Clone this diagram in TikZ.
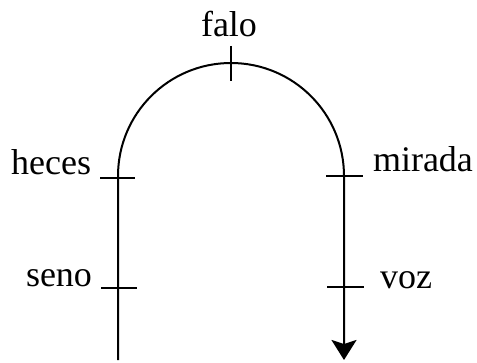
\documentclass[tikz,border=0pt]{standalone}
\usepackage{fontspec}
\setmainfont{Liberation Serif}
\usetikzlibrary{arrows.meta}
\begin{document}
\begin{tikzpicture}[x=1pt,y=1pt,line width=2pt,
  lbl/.style={font=\fontsize{36}{40}\selectfont,inner sep=0pt},
  tickmark/.style={line width=1.8pt}]
\useasboundingbox (0,0) rectangle (477,362);
% ---------- points on the path ----------
\coordinate (start) at (118,2);
\coordinate (arcL) at (118,186);
\coordinate (stop) at (344,2);
\coordinate (falo) at (231,299);
\coordinate (heces) at (118,184);
\coordinate (seno) at (118,74);
\coordinate (mirada) at (344,186);
\coordinate (voz) at (344,75);
% ---------- the path ----------
\draw[-{Stealth[length=20pt,width=25pt,inset=4pt]}] (start) -- (arcL)
  arc[start angle=180,end angle=0,radius=113] -- (stop);
% ---------- tick marks ----------
\draw[tickmark] ([yshift=17pt]falo) -- ([yshift=-18pt]falo);
\draw[tickmark] ([xshift=-18pt]heces) -- ([xshift=17pt]heces);
\draw[tickmark] ([xshift=-17pt]seno) -- ([xshift=19pt]seno);
\draw[tickmark] ([xshift=-18pt]mirada) -- ([xshift=19pt]mirada);
\draw[tickmark] ([xshift=-17pt]voz) -- ([xshift=20pt]voz);
% ---------- labels ----------
\node[lbl,anchor=base] (lfalo) at (229,325) {falo};
\node[lbl,anchor=base east] (lheces) at (92,187) {heces};
\node[lbl,anchor=base east] (lseno) at (93,75) {seno};
\node[lbl,anchor=base west] (lmirada) at (372,190) {mirada};
\node[lbl,anchor=base west] (lvoz) at (379,74) {voz};
\end{tikzpicture}
\end{document}
